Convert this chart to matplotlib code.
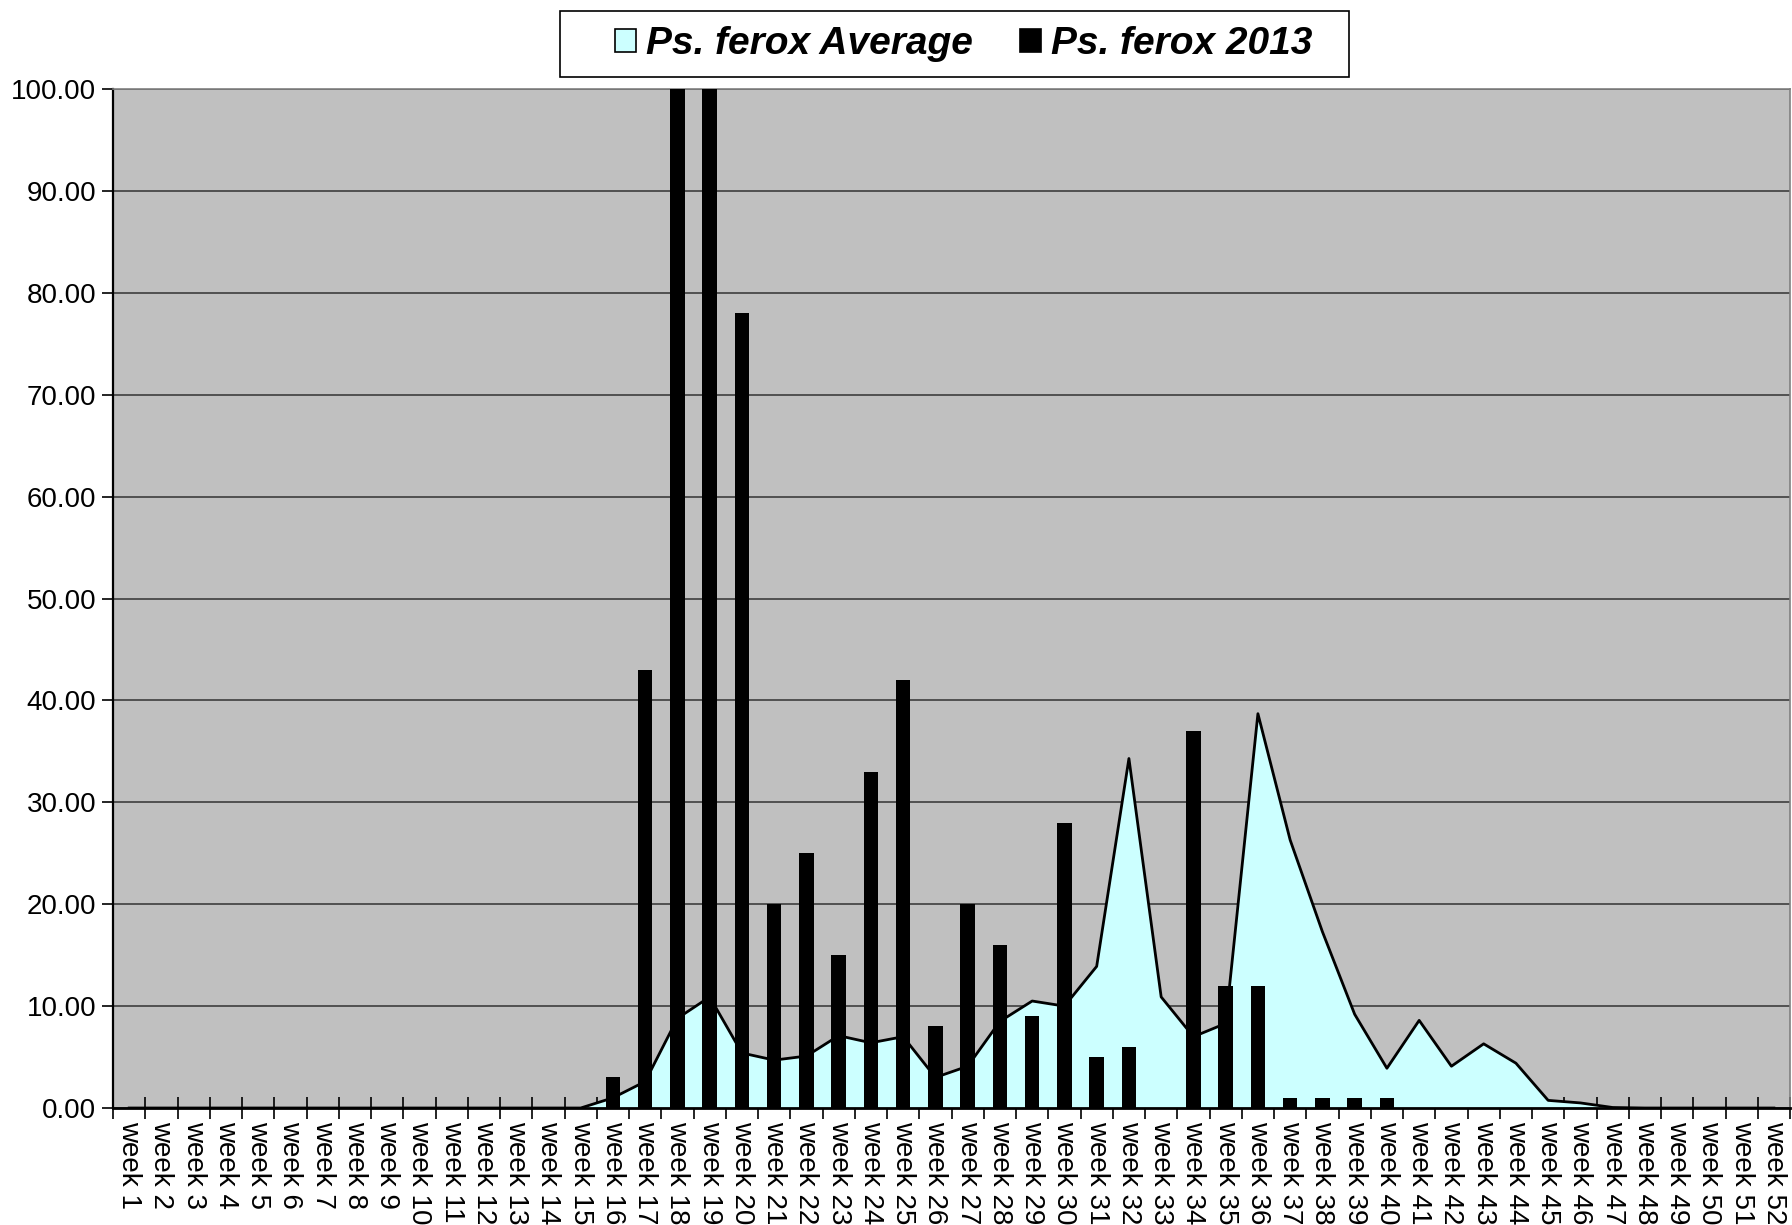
import matplotlib
matplotlib.use("Agg")
import matplotlib.pyplot as plt
from matplotlib.patches import Patch, Rectangle
from matplotlib.ticker import FixedLocator, FormatStrFormatter
import numpy as np

plt.rcParams['font.family'] = ['Liberation Sans', 'DejaVu Sans']

weeks = [f"week {i}" for i in range(1, 53)]

avg_values = [0, 0, 0, 0, 0, 0, 0, 0, 0, 0, 0, 0, 0, 0, 0,
              1.0, 2.6, 8.8, 10.9, 5.4, 4.7, 5.1, 7.1, 6.4, 7.0,
              3.0, 4.1, 8.5, 10.5, 10.0, 13.9, 34.3, 10.9, 7.0, 8.3,
              38.7, 26.3, 17.3, 9.2, 3.9, 8.6, 4.1, 6.3, 4.4, 0.75,
              0.5, 0.05, 0, 0, 0, 0, 0]

y2013_values = [0, 0, 0, 0, 0, 0, 0, 0, 0, 0, 0, 0, 0, 0, 0,
                3, 43, 100, 100, 78, 20, 25, 15, 33, 42,
                8, 20, 16, 9, 28, 5, 6, 0, 37, 12,
                12, 1, 1, 1, 1, 0, 0, 0, 0, 0,
                0, 0, 0, 0, 0, 0, 0]

series_names = ["Ps. ferox Average", "Ps. ferox 2013"]
yticks = [0, 10, 20, 30, 40, 50, 60, 70, 80, 90, 100]

W, H = 1792, 1225
fig = plt.figure(figsize=(W / 100, H / 100), dpi=100)
ax = fig.add_axes([0.0631, 0.0955, 0.9358, 0.8318])
ax.set_facecolor('#C0C0C0')

x = np.arange(len(weeks))
ax.fill_between(x, avg_values, 0, color='#CCFFFF', zorder=2, linewidth=0)
ax.plot(x, avg_values, color='black', linewidth=2.0, zorder=3)
ax.bar(x, y2013_values, width=0.45, color='black', zorder=4)

ax.set_xlim(-0.5, len(weeks) - 0.5)
ax.set_ylim(0, 100)

ax.set_yticks(yticks)
ax.yaxis.set_major_formatter(FormatStrFormatter('%.2f'))
ax.yaxis.grid(True, color='#505050', linewidth=1.4, zorder=1)
ax.set_axisbelow(True)
ax.tick_params(axis='y', direction='out', length=8, width=1.2, labelsize=20, pad=4, colors='black')

ax.set_xticks(x)
ax.set_xticklabels(weeks, rotation=270, ha='center', va='top', fontsize=20)
ax.tick_params(axis='x', which='major', length=0, pad=9)
ax.xaxis.set_minor_locator(FixedLocator(np.arange(-0.5, len(weeks), 1.0)))
ax.tick_params(axis='x', which='minor', direction='inout', length=16, width=1.2, color='black')

for side in ['top', 'right']:
    ax.spines[side].set_color('#808080')
    ax.spines[side].set_linewidth(1.2)
ax.spines['left'].set_color('black')
ax.spines['left'].set_linewidth(1.6)
ax.spines['bottom'].set_color('black')
ax.spines['bottom'].set_linewidth(2.0)
ax.spines['bottom'].set_zorder(5)

# legend frame (drawn separately to match the original's asymmetric padding)
bx0, bx1, by0, by1 = 560, 1349, 11, 77
fig.patches.append(Rectangle((bx0 / W, 1 - by1 / H), (bx1 - bx0) / W, (by1 - by0) / H,
                             transform=fig.transFigure, facecolor='white',
                             edgecolor='black', linewidth=1.2, zorder=0))

handles = [Patch(facecolor='#CCFFFF', edgecolor='black', linewidth=1.2),
           Patch(facecolor='black', edgecolor='black', linewidth=1.2)]
leg = fig.legend(handles, series_names, loc='center', bbox_to_anchor=(0.5377, 1 - 44 / H),
                 ncol=2, frameon=False,
                 prop={'weight': 'bold', 'style': 'italic', 'size': 28},
                 handlelength=0.55, handleheight=0.55, handletextpad=0.25,
                 columnspacing=1.2, borderpad=0.2)

fig.savefig('out.png', dpi=100)
